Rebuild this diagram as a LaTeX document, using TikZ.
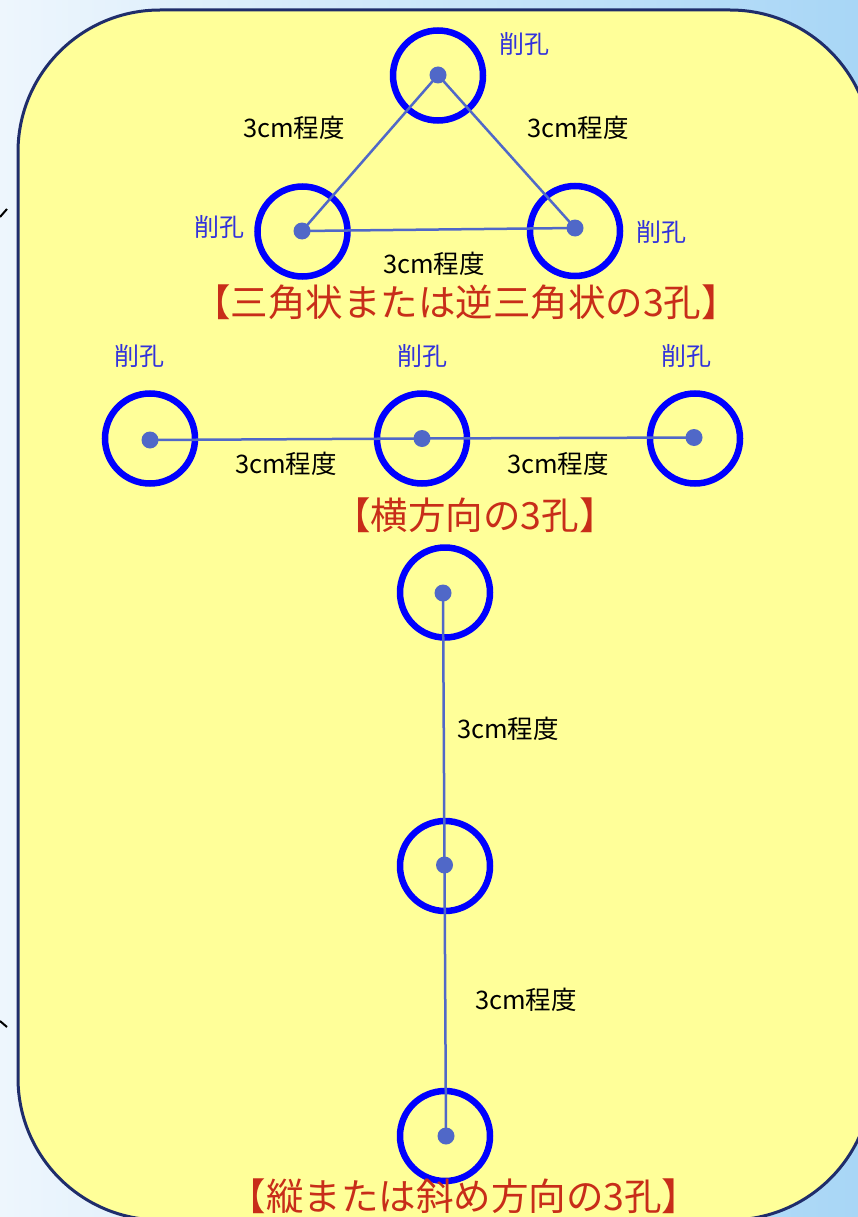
\documentclass[tikz,border=0pt]{standalone}
\usepackage{fontspec}
\newfontfamily\jp{Noto Sans CJK JP}
\usetikzlibrary{shapes.geometric}
\definecolor{bgL}{RGB}{238,246,253}
\definecolor{bgR}{RGB}{168,214,246}
\definecolor{panel}{RGB}{255,255,153}
\definecolor{panelline}{RGB}{31,45,107}
\definecolor{ringblue}{RGB}{0,0,255}
\definecolor{dotblue}{RGB}{80,104,200}
\definecolor{lblblue}{RGB}{50,50,220}
\definecolor{titlered}{RGB}{200,45,25}
\pgfdeclarelayer{back}
\pgfdeclarelayer{front}
\pgfsetlayers{back,main,front}
\tikzset{
  hole/.style={circle,draw=ringblue,line width=6.5pt,minimum size=90pt,inner sep=0pt},
  holedot/.style={circle,fill=dotblue,minimum size=17pt,inner sep=0pt},
  conn/.style={draw=dotblue,line width=2.5pt},
  lbl/.style={text=lblblue,font=\jp\fontsize{25}{28}\selectfont,inner sep=0pt},
  dist/.style={text=black,font=\jp\fontsize{25.5}{28}\selectfont,inner sep=0pt},
  ttl/.style={text=titlered,font=\jp\fontsize{37.5}{40}\selectfont,inner sep=0pt},
  edge mark/.style={draw=black,line width=2pt}
}
\begin{document}
\begin{tikzpicture}[x=1pt,y=-1pt]
\useasboundingbox (0,0) rectangle (858,1217);
\begin{pgfonlayer}{back}
\shade[left color=bgL,right color=bgR] (0,0) rectangle (858,1217);
\draw[draw=panelline,fill=panel,line width=3pt,rounded corners=142pt] (18,10) rectangle (872,1220);
\coordinate (m1a) at (0,217); \coordinate (m1b) at (7,209);
\coordinate (m2a) at (0,1021); \coordinate (m2b) at (7,1027);
\draw[edge mark] (m1a) -- (m1b);
\draw[edge mark] (m2a) -- (m2b);
% rings
\node[hole] (r1) at (438,75.5) {};
\node[hole] (r2) at (302.5,231.5) {};
\node[hole] (r3) at (575,231) {};
\node[hole] (r4) at (150,438.5) {};
\node[hole] (r5) at (422,438.5) {};
\node[hole] (r6) at (695,438.5) {};
\node[hole] (r7) at (445,592.5) {};
\node[hole] (r8) at (445,866) {};
\node[hole] (r9) at (445,1136) {};
\end{pgfonlayer}
\begin{pgfonlayer}{front}
\node[holedot] (d1) at (438,75) {};
\node[holedot] (d2) at (302,231) {};
\node[holedot] (d3) at (575,228) {};
\node[holedot] (d4) at (150,440) {};
\node[holedot] (d5) at (422,438.5) {};
\node[holedot] (d6) at (694,437.5) {};
\node[holedot] (d7) at (443,593) {};
\node[holedot] (d8) at (444.5,865) {};
\node[holedot] (d9) at (446,1136) {};
\end{pgfonlayer}
% connectors
\draw[conn] (d1.center) -- (d2.center);
\draw[conn] (d1.center) -- (d3.center);
\draw[conn] (d2.center) -- (d3.center);
\draw[conn] (d4.center) -- (d5.center) -- (d6.center);
\draw[conn] (d7.center) -- (d8.center) -- (d9.center);
% labels
\node[lbl] (l1) at (524,44) {削孔};
\node[lbl] (l2) at (219,227) {削孔};
\node[lbl] (l3) at (661,232) {削孔};
\node[lbl] (l4) at (139,356) {削孔};
\node[lbl] (l5) at (422,356) {削孔};
\node[lbl] (l6) at (686,356) {削孔};
\node[dist] (c1) at (294,128) {3cm程度};
\node[dist] (c2) at (578,128) {3cm程度};
\node[dist] (c3) at (434,264) {3cm程度};
\node[dist] (c4) at (286,464) {3cm程度};
\node[dist] (c5) at (558,464) {3cm程度};
\node[dist] (c6) at (508,729) {3cm程度};
\node[dist] (c7) at (526,1000) {3cm程度};
\node[ttl] (t1) at (466,302) {【三角状または逆三角状の3孔】};
\node[ttl] (t2) at (475,515) {【横方向の3孔】};
\node[ttl] (t3) at (464,1196) {【縦または斜め方向の3孔】};
\end{tikzpicture}
\end{document}
